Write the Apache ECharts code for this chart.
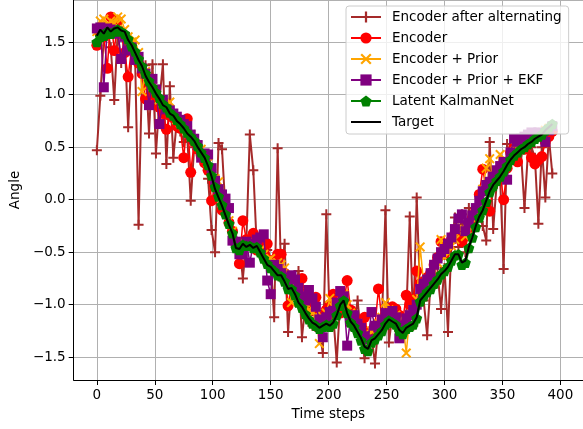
<!DOCTYPE html>
<html>
<head>
<meta charset="utf-8">
<script src="https://cdn.jsdelivr.net/npm/echarts@6/dist/echarts.min.js"></script>
<style>
  html, body { margin: 0; padding: 0; background: #fff; }
  #chart { width: 583px; height: 429px; }
</style>
</head>
<body>
<div id="chart"></div>
<script>
// time index, every 3rd step
const steps = Array.from({ length: 132 }, (_, i) => i * 3);

const target = [
  1.56, 1.62, 1.58, 1.64, 1.60, 1.63, 1.64, 1.61, 1.60, 1.52, 1.47, 1.40,
  1.33, 1.27, 1.18, 1.12, 1.07, 1.01, 0.96, 0.90, 0.88, 0.82, 0.80, 0.75,
  0.72, 0.68, 0.63, 0.60, 0.56, 0.50, 0.45, 0.40, 0.32, 0.22, 0.10, 0.02,
  -0.06, -0.15, -0.24, -0.32, -0.46, -0.47, -0.42, -0.45, -0.43, -0.46, -0.44, -0.50,
  -0.56, -0.62, -0.64, -0.68, -0.72, -0.72, -0.78, -0.85, -0.84, -0.90, -0.98, -1.02,
  -1.08, -1.13, -1.17, -1.19, -1.22, -1.20, -1.18, -1.20, -1.17, -1.10, -1.00, -0.96,
  -1.08, -1.16, -1.20, -1.26, -1.32, -1.40, -1.42, -1.34, -1.32, -1.28, -1.24, -1.18,
  -1.14, -1.16, -1.18, -1.24, -1.27, -1.22, -1.20, -1.18, -1.12, -0.96, -0.92, -0.88,
  -0.84, -0.80, -0.76, -0.71, -0.68, -0.64, -0.58, -0.52, -0.52, -0.60, -0.58, -0.45,
  -0.36, -0.25, -0.16, -0.10, -0.01, 0.08, 0.14, 0.18, 0.22, 0.27, 0.33, 0.38,
  0.42, 0.45, 0.48, 0.50, 0.53, 0.55, 0.58, 0.60, 0.62, 0.66, 0.69, 0.72
];

const kalmanNet = [
  1.50, 1.55, 1.56, 1.60, 1.58, 1.60, 1.62, 1.60, 1.58, 1.53, 1.46, 1.41,
  1.34, 1.27, 1.20, 1.13, 1.07, 1.02, 0.97, 0.91, 0.88, 0.83, 0.80, 0.76,
  0.72, 0.68, 0.64, 0.60, 0.56, 0.51, 0.45, 0.40, 0.33, 0.23, 0.12, 0.03,
  -0.05, -0.14, -0.23, -0.32, -0.46, -0.48, -0.43, -0.44, -0.44, -0.46, -0.45, -0.50,
  -0.56, -0.61, -0.65, -0.68, -0.72, -0.73, -0.78, -0.85, -0.85, -0.91, -0.98, -1.03,
  -1.09, -1.14, -1.18, -1.20, -1.23, -1.21, -1.19, -1.21, -1.18, -1.10, -1.01, -0.96,
  -1.08, -1.17, -1.21, -1.27, -1.34, -1.42, -1.44, -1.36, -1.33, -1.29, -1.25, -1.19,
  -1.15, -1.17, -1.19, -1.25, -1.28, -1.23, -1.21, -1.19, -1.13, -0.97, -0.92, -0.88,
  -0.85, -0.80, -0.76, -0.71, -0.68, -0.64, -0.58, -0.53, -0.52, -0.62, -0.60, -0.46,
  -0.36, -0.26, -0.17, -0.10, -0.02, 0.07, 0.13, 0.18, 0.22, 0.27, 0.32, 0.38,
  0.42, 0.45, 0.48, 0.50, 0.53, 0.55, 0.58, 0.60, 0.62, 0.66, 0.69, 0.72
];

const priorEkf = [
  1.63, 1.64, 1.07, 1.63, 1.62, 1.58, 1.60, 1.34, 1.55, 1.42, 1.45, 1.33,
  1.36, 1.25, 1.20, 0.90, 1.15, 1.05, 0.72, 0.95, 0.86, 0.85, 0.82, 0.79,
  0.76, 0.72, 0.70, 0.62, 0.58, 0.52, 0.40, 0.44, 0.43, 0.30, 0.18, 0.10,
  0.05, 0.01, -0.08, -0.39, -0.40, -0.52, -0.52, -0.40, -0.60, -0.42, -0.38, -0.36,
  -0.33, -0.77, -0.90, -0.62, -0.66, -0.70, -0.74, -0.80, -0.72, -0.76, -0.84, -0.92,
  -0.96, -0.86, -0.94, -1.02, -1.14, -1.31, -1.12, -1.07, -1.06, -0.98, -0.87, -0.92,
  -1.39, -1.12, -1.10, -1.18, -1.22, -1.30, -1.33, -1.07, -1.20, -1.22, -1.14, -1.08,
  -1.10, -1.06, -1.12, -1.32, -1.20, -1.13, -1.10, -1.05, -1.00, -0.85, -0.80, -0.76,
  -0.70, -0.62, -0.56, -0.50, -0.47, -0.42, -0.36, -0.28, -0.18, -0.14, -0.30, -0.22,
  -0.15, -0.08, -0.01, 0.08, 0.14, 0.17, 0.22, 0.28, 0.32, 0.36, 0.19, 0.45,
  0.58, 0.55, 0.58, 0.60, 0.62, 0.64, 0.62, 0.64, 0.60, 0.55, 0.66, 0.70
];

const encoder = [
  1.47, 1.58, 1.55, 1.25, 1.74, 1.42, 1.70, 1.58, 1.40, 1.17, 1.45, 1.38,
  1.30, 1.20, 0.96, 1.08, 1.02, 0.98, 0.88, 0.82, 0.67, 0.80, 0.78, 0.70,
  0.68, 0.40, 0.77, 0.26, 0.55, 0.48, 0.42, 0.35, 0.28, -0.01, 0.12, 0.05,
  -0.10, -0.12, -0.22, -0.30, -0.42, -0.61, -0.20, -0.38, -0.40, -0.32, -0.48, -0.45,
  -0.52, -0.42, -0.58, -0.60, -0.52, -0.52, -0.70, -1.01, -0.80, -0.82, -0.85, -0.75,
  -0.95, -1.00, -1.05, -0.93, -1.10, -1.15, -1.05, -1.00, -0.90, -1.02, -1.08, -0.98,
  -0.77, -1.05, -1.15, -1.20, -1.18, -1.12, -1.30, -1.25, -1.20, -0.85, -1.15, -1.10,
  -1.05, -1.02, -1.04, -1.10, -1.15, -0.91, -1.00, -0.95, -0.68, -0.80, -0.78, -0.74,
  -0.70, -0.62, -0.55, -0.40, -0.52, -0.45, -0.38, -0.32, -0.30, -0.40, -0.35, -0.28,
  -0.18, -0.10, 0.05, 0.29, 0.10, -0.11, 0.15, 0.20, 0.25, 0.00, 0.30, 0.45,
  0.50, 0.36, 0.50, 0.48, 0.55, 0.40, 0.34, 0.38, 0.41, 0.55, 0.60, 0.65
];

const encoderPrior = [
  1.60, 1.70, 1.72, 1.66, 1.70, 1.68, 1.74, 1.72, 1.62, 1.55, 1.50, 1.52,
  1.40, 1.03, 1.22, 1.15, 1.08, 1.04, 0.95, 0.92, 0.88, 0.93, 0.82, 0.76,
  0.73, 0.70, 0.66, 0.62, 0.58, 0.52, 0.48, 0.42, 0.35, 0.25, 0.20, 0.17,
  0.00, -0.10, -0.20, -0.30, -0.42, -0.45, -0.40, -0.42, -0.40, -0.44, -0.42, -0.48,
  -0.52, -0.58, -0.56, -0.62, -0.60, -0.62, -0.65, -0.75, -0.98, -0.80, -0.88, -0.92,
  -0.98, -1.05, -1.08, -1.10, -1.37, -1.12, -1.08, -0.94, -1.02, -1.00, -0.92, -0.90,
  -1.00, -1.08, -1.12, -1.18, -1.22, -1.28, -1.30, -1.25, -1.22, -1.18, -1.12, -0.98,
  -1.05, -1.08, -1.10, -1.15, -1.18, -1.46, -1.10, -1.05, -0.95, -0.45, -0.80, -0.78,
  -0.72, -0.68, -0.60, -0.38, -0.55, -0.50, -0.44, -0.38, -0.30, -0.27, -0.35, -0.30,
  -0.22, -0.12, -0.02, 0.10, 0.30, 0.39, 0.20, 0.25, 0.43, 0.30, 0.35, 0.45,
  0.52, 0.50, 0.55, 0.56, 0.58, 0.60, 0.60, 0.62, 0.64, 0.66, 0.68, 0.70
];

const alternating = [
  0.47, 0.99, 1.55, 1.62, 1.45, 0.95, 1.60, 1.30, 1.55, 0.69, 1.40, 1.35,
  -0.24, 1.20, 1.28, 0.63, 1.29, 0.44, 0.95, 1.29, 0.34, 1.08, 0.40, 0.75,
  0.65, 0.55, 0.60, -0.01, 0.50, 0.45, 0.42, 0.38, 0.20, -0.29, -0.50, 0.54,
  0.48, -0.10, -0.20, -0.30, -0.40, -0.45, -0.75, -0.40, 0.62, 0.28, -0.45, -0.50,
  -0.55, -0.48, -0.60, -1.12, 0.49, -0.70, -0.42, -1.26, -0.80, -0.88, -0.68, -1.31,
  -1.00, -1.10, -1.20, -1.15, -1.25, -1.46, -0.14, -1.15, -1.10, -1.55, -0.95, -0.90,
  -1.10, -1.20, -1.18, -0.96, -1.30, -1.51, -1.35, -1.30, -1.56, -1.20, -1.15, -0.10,
  -1.36, -1.10, -1.15, -1.25, -1.20, -1.10, -0.16, -1.20, 0.02, -0.90, -0.96, -1.29,
  -0.80, -0.75, -0.70, -1.04, -0.65, -1.26, -0.41, -0.17, -0.45, -0.14, -0.50, -0.08,
  -0.30, -0.20, -0.15, -0.25, -0.39, 0.55, -0.28, 0.15, 0.20, -0.66, 0.53, 0.35,
  0.40, 0.42, 0.45, -0.08, 0.45, 0.50, 0.40, -0.23, 0.50, 0.02, 0.60, 0.25
];

const FONT = "DejaVu Sans";
const PLUS = "path://M4,0H6V4H10V6H6V10H4V6H0V4H4Z";
const CROSS = "path://M0,1.4L1.4,0L5,3.6L8.6,0L10,1.4L6.4,5L10,8.6L8.6,10L5,6.4L1.4,10L0,8.6L3.6,5Z";
const PENTAGON = "path://M5,0L10,3.6L8.1,9.5L1.9,9.5L0,3.6Z";

function pairs(values) {
  return values.map((v, i) => [steps[i], v]);
}

// z grows with the series order so each one sits fully over the previous
function lineSeries(name, values, color, symbol, size, width, z) {
  return {
    name: name,
    type: "line",
    z: z,
    data: pairs(values),
    symbol: symbol,
    symbolSize: size,
    symbolKeepAspect: true,
    showSymbol: symbol !== "none",
    lineStyle: { color: color, width: width },
    itemStyle: { color: color, opacity: 1 },
    emphasis: { disabled: true },
    animation: false,
  };
}

const chart = echarts.init(document.getElementById("chart"));

const option = {
  backgroundColor: "#ffffff",
  animation: false,
  textStyle: { fontFamily: FONT },
  grid: { left: 72, top: -2, width: 513, height: 382 },
  legend: {
    orient: "vertical",
    left: 346,
    top: 6,
    z: 20,
    padding: [4, 7, 5, 4],
    itemWidth: 30,
    itemHeight: 14,
    itemGap: 7,
    backgroundColor: "rgba(255,255,255,0.8)",
    borderColor: "#cccccc",
    borderWidth: 1,
    borderRadius: 3,
    textStyle: { fontFamily: FONT, fontSize: 13.5, color: "#000", padding: [0, 0, 0, 6] },
    data: [
      "Encoder after alternating",
      "Encoder",
      "Encoder + Prior",
      "Encoder + Prior + EKF",
      "Latent KalmanNet",
      { name: "Target", itemStyle: { opacity: 0 } },
    ],
  },
  xAxis: {
    type: "value",
    min: -20,
    max: 419.5,
    splitNumber: 9,
    minInterval: 50,
    maxInterval: 50,
    name: "Time steps",
    nameLocation: "middle",
    nameGap: 27,
    nameTextStyle: { fontFamily: FONT, fontSize: 13.5, color: "#000" },
    axisLine: { onZero: false, lineStyle: { color: "#000", width: 1 } },
    axisTick: { show: true, inside: false, length: 5, lineStyle: { color: "#000" } },
    axisLabel: {
      fontFamily: FONT,
      fontSize: 13.5,
      color: "#000",
      margin: 8,
      showMinLabel: false,
      showMaxLabel: false,
    },
    splitLine: { show: true, lineStyle: { color: "#b0b0b0", width: 1 } },
  },
  yAxis: {
    type: "value",
    min: -1.717,
    max: 1.901,
    splitNumber: 7,
    minInterval: 0.5,
    maxInterval: 0.5,
    name: "Angle",
    nameLocation: "middle",
    nameGap: 50,
    nameTextStyle: { fontFamily: FONT, fontSize: 13.5, color: "#000" },
    axisLine: { show: true, onZero: false, lineStyle: { color: "#000", width: 1 } },
    axisTick: { show: true, inside: false, length: 5, lineStyle: { color: "#000" } },
    axisLabel: {
      fontFamily: FONT,
      fontSize: 13.5,
      color: "#000",
      margin: 8,
      showMinLabel: false,
      showMaxLabel: false,
      formatter: (v) => v.toFixed(1).replace("-", "\u2212"),
    },
    splitLine: { show: true, lineStyle: { color: "#b0b0b0", width: 1 } },
  },
  series: [
    lineSeries("Encoder after alternating", alternating, "#a52a2a", PLUS, 10, 2, 3),
    lineSeries("Encoder", encoder, "#ff0000", "circle", 11, 1.5, 4),
    lineSeries("Encoder + Prior", encoderPrior, "#ffa500", CROSS, 10, 1.5, 5),
    lineSeries("Encoder + Prior + EKF", priorEkf, "#800080", "rect", 10, 1.5, 6),
    lineSeries("Latent KalmanNet", kalmanNet, "#008000", PENTAGON, 11, 2.5, 7),
    lineSeries("Target", target, "#000000", "none", 0, 2, 8),
  ],
};

chart.setOption(option);
</script>
</body>
</html>
